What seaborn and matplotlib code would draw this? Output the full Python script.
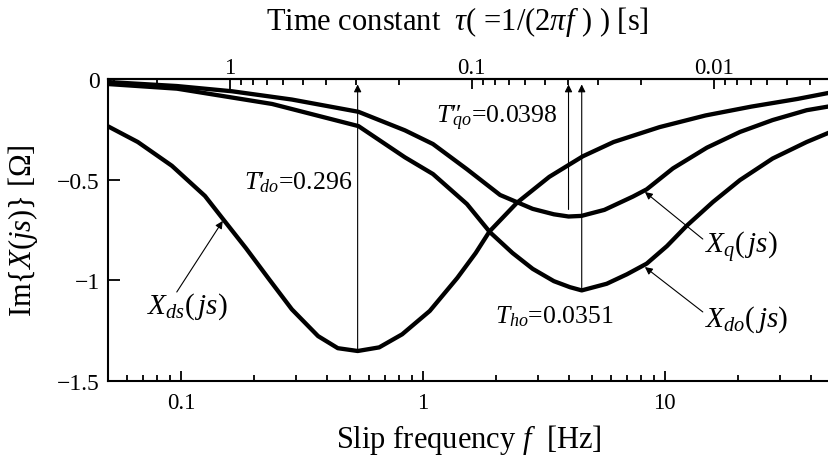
import numpy as np
import pandas as pd
import matplotlib
matplotlib.use("Agg")
import matplotlib.pyplot as plt
import seaborn as sns
from matplotlib.ticker import LogLocator, FuncFormatter, NullFormatter, FixedLocator

# Slip frequency [Hz] and imaginary part [ohm] of each operational reactance
f_ds = [0.05, 0.0664, 0.0918, 0.1258, 0.1492, 0.1857, 0.231, 0.2875, 0.369, 0.4453,
        0.538, 0.6601, 0.8213, 1.068, 1.388, 1.654, 1.886, 2.452, 3.33, 4.581,
        6.14, 9.511, 14.73, 22.8, 35.32, 50.0]
im_ds = [-0.235, -0.313, -0.431, -0.581, -0.695, -0.840, -0.993, -1.144, -1.277, -1.337,
         -1.351, -1.333, -1.268, -1.152, -0.988, -0.864, -0.757, -0.614, -0.486, -0.384,
         -0.313, -0.239, -0.181, -0.137, -0.099, -0.064]

f_q = [0.05, 0.0964, 0.1628, 0.2875, 0.542, 0.8431, 1.101, 1.521, 2.085, 2.844, 3.478,
       4.0, 4.521, 5.627, 7.379, 8.414, 10.80, 14.92, 20.44, 27.88, 38.54, 50.0]
im_q = [-0.015, -0.035, -0.061, -0.102, -0.163, -0.255, -0.323, -0.448, -0.576, -0.645,
        -0.672, -0.683, -0.680, -0.650, -0.584, -0.548, -0.444, -0.341, -0.263, -0.204,
        -0.155, -0.132]

f_do = [0.05, 0.0964, 0.2382, 0.542, 0.8431, 1.101, 1.521, 1.894, 2.346, 2.844, 3.478,
        4.054, 4.534, 5.752, 6.97, 8.414, 10.2, 12.31, 15.8, 20.44, 27.88, 38.54, 50.0]
im_do = [-0.025, -0.048, -0.124, -0.234, -0.389, -0.472, -0.621, -0.761, -0.864, -0.943,
         -1.004, -1.034, -1.050, -1.017, -0.970, -0.917, -0.830, -0.729, -0.611, -0.502,
         -0.395, -0.313, -0.256]

# Time constants [s] marked on the curves
tau_do_p = 0.296
tau_qo_pp = 0.0398
tau_ho = 0.0351

x_ticks_bottom = [0.1, 1, 10]
x_ticks_top = [1, 0.1, 0.01]
y_ticks = [0, -0.5, -1, -1.5]

sns.set_theme(style="ticks")
plt.rcParams.update({
    "font.family": ["Liberation Serif", "DejaVu Serif"],
    "mathtext.fontset": "custom",
    "mathtext.rm": "Liberation Serif",
    "mathtext.it": "Liberation Serif:italic",
    "mathtext.bf": "Liberation Serif:bold",
    "axes.linewidth": 1.5,
    "axes.edgecolor": "black",
    "xtick.color": "black",
    "ytick.color": "black",
    "text.color": "black",
    "axes.labelcolor": "black",
})

df = pd.concat([
    pd.DataFrame({"f": f_ds, "im": im_ds, "curve": "ds"}),
    pd.DataFrame({"f": f_q, "im": im_q, "curve": "q"}),
    pd.DataFrame({"f": f_do, "im": im_do, "curve": "do"}),
])

fig = plt.figure(figsize=(8.29, 4.56), dpi=100)
ax = fig.add_axes([108 / 829, 74 / 456, 726 / 829, 302 / 456])

sns.lineplot(data=df, x="f", y="im", hue="curve", palette=["black"] * 3,
             estimator=None, sort=True, legend=False, lw=3.1, ax=ax)
for line in ax.get_lines():
    line.set_solid_joinstyle("round")
    line.set_solid_capstyle("round")

ax.set_xscale("log")
ax.set_xlim(0.05, 50)
ax.set_ylim(-1.5, 0)
ax.spines["right"].set_visible(False)

ax.xaxis.set_major_locator(FixedLocator(x_ticks_bottom))
ax.xaxis.set_minor_locator(LogLocator(base=10, subs=np.arange(2, 10), numticks=20))
ax.xaxis.set_major_formatter(FuncFormatter(lambda v, _: f"{v:g}"))
ax.xaxis.set_minor_formatter(NullFormatter())
ax.yaxis.set_major_locator(FixedLocator(y_ticks))
ax.yaxis.set_major_formatter(FuncFormatter(lambda v, _: f"{v:g}".replace("-", "\u2212")))

ax.tick_params(axis="both", which="both", direction="in", top=False, right=False,
               labelsize=16.5, width=1.3)
ax.tick_params(axis="x", which="major", length=7, pad=8)
ax.tick_params(axis="x", which="minor", length=4)
ax.tick_params(axis="y", which="major", length=8.5, pad=6, labelsize=17)

label_fs = 22
ax.set_xlabel("Slip frequency $f$  [Hz]", fontsize=label_fs)
ax.set_ylabel("Im{$X$($js$)} [Ω]", fontsize=label_fs)
ax.xaxis.set_label_coords(0.497, -0.136)
ax.yaxis.set_label_coords(-0.093, 0.5)


def f_to_tau(f):
    f = np.asarray(f, dtype=float)
    with np.errstate(divide="ignore"):
        return 1.0 / (2 * np.pi * f)


sec = ax.secondary_xaxis("top", functions=(f_to_tau, f_to_tau))
sec.xaxis.set_major_locator(FixedLocator(x_ticks_top))
sec.xaxis.set_minor_locator(LogLocator(base=10, subs=np.arange(2, 10), numticks=20))
sec.xaxis.set_major_formatter(FuncFormatter(lambda v, _: f"{v:g}"))
sec.xaxis.set_minor_formatter(NullFormatter())
sec.tick_params(axis="x", which="both", direction="in", labelsize=16.5, width=1.3, pad=1)
sec.tick_params(axis="x", which="major", length=7)
sec.tick_params(axis="x", which="minor", length=4)
sec.spines["top"].set_linewidth(1.5)
sec.set_xlabel(r"Time constant  $\tau$( =1/(2$\pi f$ ) ) [s]", fontsize=label_fs)
sec.xaxis.set_label_coords(0.481, 1.165, transform=ax.transAxes)

# Vertical markers at f = 1/(2*pi*tau)
arrow_kw = dict(arrowstyle="-|>", lw=0.8, color="black", shrinkA=0, shrinkB=0,
                mutation_scale=11)
top_y = -0.027
for tau, y0 in [(tau_do_p, -1.351), (tau_qo_pp, -0.648), (tau_ho, -1.05)]:
    fx = 1 / (2 * np.pi * tau)
    ax.annotate("", xy=(fx, top_y), xytext=(fx, y0), arrowprops=arrow_kw)

tfs = 18.5
ax.annotate(rf"$T′_{{\!\!do}}$={tau_do_p}", xy=(1 / (2 * np.pi * tau_do_p), -0.51),
            xytext=(-4, 0), textcoords="offset points", ha="right", va="center",
            fontsize=tfs)
ax.annotate(rf"$T″_{{\!\!\!\!qo}}$={tau_qo_pp}",
            xy=(1 / (2 * np.pi * tau_qo_pp), -0.189),
            xytext=(-8, 0), textcoords="offset points", ha="right", va="center",
            fontsize=tfs)
ax.text(1.984, -1.177, rf"$T_{{ho}}$={tau_ho}", ha="left", va="center", fontsize=tfs)

# Curve labels with leader arrows
cfs = 21
ax.text(14.6, -0.83, r"$X_q(\,js)$", ha="left", va="center", fontsize=cfs)
ax.text(14.6, -1.19, r"$X_{do}(\,js)$", ha="left", va="center", fontsize=cfs)
ax.text(0.0724, -1.128, r"$X_{ds}(\,js)$", ha="left", va="center", fontsize=cfs)
ax.annotate("", xy=(0.149, -0.705), xytext=(0.0962, -1.058), arrowprops=arrow_kw)
ax.annotate("", xy=(8.27, -0.561), xytext=(14.35, -0.795), arrowprops=arrow_kw)
ax.annotate("", xy=(8.27, -0.934), xytext=(14.35, -1.157), arrowprops=arrow_kw)

fig.savefig("out.png", dpi=100)
